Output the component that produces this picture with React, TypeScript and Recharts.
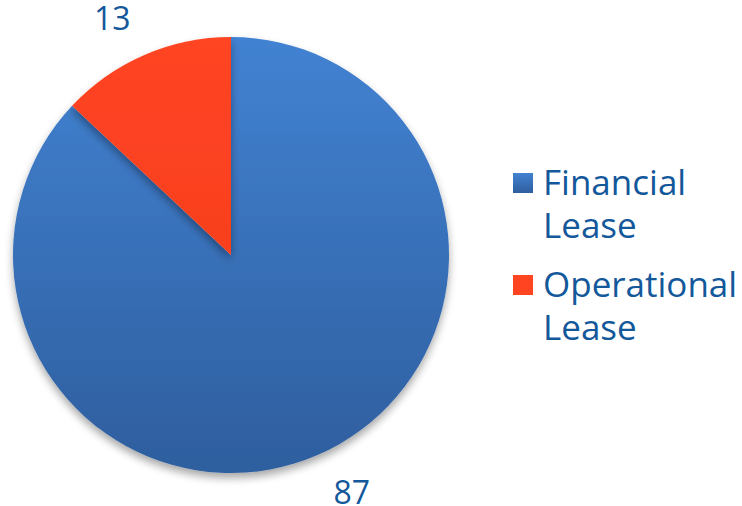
import React from 'react';
import { PieChart, Pie, Cell, Legend } from 'recharts';

const categories = ['Financial Lease', 'Operational Lease'];
const values = [87, 13];
const legendLines = [['Financial', 'Lease'], ['Operational', 'Lease']];

const data = categories.map((name, i) => ({ name, value: values[i] }));
const fills = ['url(#blueGrad)', 'url(#orangeGrad)'];
const textColor = '#13589A';
const RAD = Math.PI / 180;

const renderLabel = (props: any) => {
  const { cx, cy, midAngle, outerRadius, value } = props;
  const r = outerRadius + 40;
  const x = cx + r * Math.cos(-midAngle * RAD);
  const y = cy + r * Math.sin(-midAngle * RAD);
  const anchor = x > cx ? 'start' : 'end';
  return (
    <text
      x={x + (x > cx ? 0 : 2)}
      y={y + 12}
      textAnchor={anchor}
      fill={textColor}
      fontSize={32}
      fontFamily="'Open Sans', sans-serif"
    >
      {value}
    </text>
  );
};

const squareFills = ['linear-gradient(#4282D2, #2E5E9E)', '#FF4422'];

const renderLegend = () => (
  <div style={{ fontFamily: "'Open Sans', sans-serif", color: textColor }}>
    {legendLines.map((lines, i) => (
      <div key={i} style={{ display: 'flex', alignItems: 'flex-start', marginBottom: 16 }}>
        <div
          style={{
            width: 20,
            height: 20,
            marginTop: 13,
            marginRight: 10,
            background: squareFills[i],
            flexShrink: 0,
          }}
        />
        <div style={{ fontSize: 35, lineHeight: '43px', whiteSpace: 'nowrap' }}>
          {lines.map((l, j) => (
            <div key={j}>{l}</div>
          ))}
        </div>
      </div>
    ))}
  </div>
);

export default function App() {
  return (
    <div style={{ position: 'absolute', left: 0, top: 0, background: '#fff' }}>
      <PieChart width={742} height={506} margin={{ top: 0, right: 0, bottom: 0, left: 0 }}>
        <defs>
          <linearGradient id="blueGrad" x1="0" y1="0" x2="0" y2="1">
            <stop offset="0%" stopColor="#4282D2" />
            <stop offset="100%" stopColor="#2E5E9E" />
          </linearGradient>
          <linearGradient id="orangeGrad" x1="0" y1="0" x2="0" y2="1">
            <stop offset="0%" stopColor="#FF4422" />
            <stop offset="100%" stopColor="#F8401E" />
          </linearGradient>
          <filter id="shadow" x="-10%" y="-10%" width="120%" height="125%">
            <feGaussianBlur in="SourceAlpha" stdDeviation="4" />
            <feOffset dx="0" dy="5" result="blur" />
            <feComponentTransfer>
              <feFuncA type="linear" slope="0.35" />
            </feComponentTransfer>
            <feMerge>
              <feMergeNode />
              <feMergeNode in="SourceGraphic" />
            </feMerge>
          </filter>
        </defs>
        <Pie
          data={data}
          dataKey="value"
          nameKey="name"
          cx={231}
          cy={255}
          outerRadius={218}
          startAngle={90}
          endAngle={-270}
          stroke="none"
          label={renderLabel}
          labelLine={false}
          isAnimationActive={false}
          style={{ filter: 'url(#shadow)' }}
        >
          {data.map((d, i) => (
            <Cell key={d.name} fill={fills[i]} stroke="none" />
          ))}
        </Pie>
        <Legend
          content={renderLegend}
          wrapperStyle={{ position: 'absolute', left: 513, top: 160, width: 229 }}
        />
      </PieChart>
    </div>
  );
}
